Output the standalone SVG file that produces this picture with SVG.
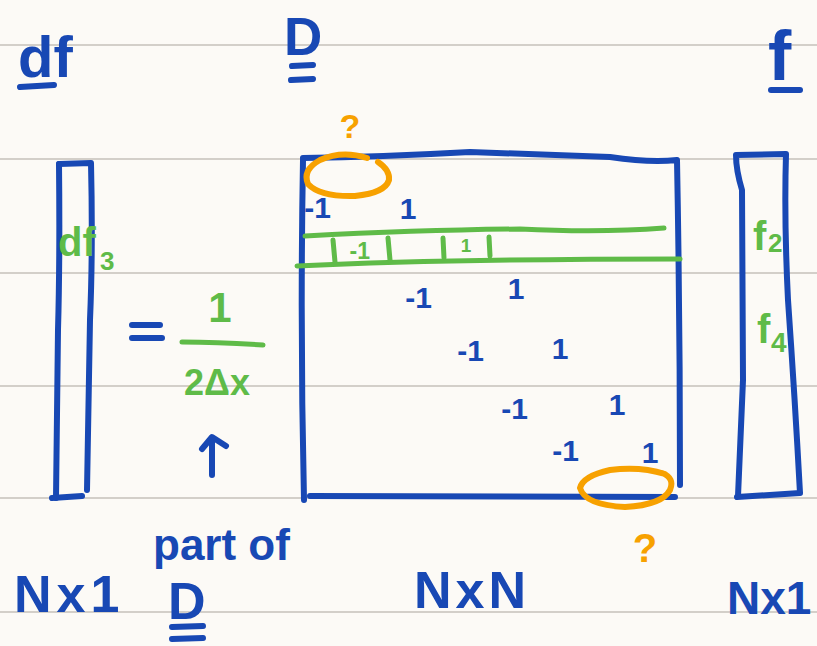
<svg xmlns="http://www.w3.org/2000/svg" width="817" height="646" viewBox="0 0 817 646">
<style>
.rule{stroke:#d3cfc9;stroke-width:2;fill:none}
.b{stroke:#1848b4;stroke-width:6;fill:none;stroke-linecap:round;stroke-linejoin:round}
.g{stroke:#5fbb48;stroke-width:5;fill:none;stroke-linecap:round;stroke-linejoin:round}
.o{stroke:#f7a100;stroke-width:6;fill:none;stroke-linecap:round}
.tb{fill:#1848b4;font-family:"Liberation Sans",Arial,sans-serif;font-weight:bold}
.tg{fill:#5fbb48;font-family:"Liberation Sans",Arial,sans-serif;font-weight:bold}
.to{fill:#f7a100;font-family:"Liberation Sans",Arial,sans-serif;font-weight:bold}
</style>
<rect width="817" height="646" fill="#fcfaf6"/>
<g id="ruling">
<line class="rule" x1="0" y1="45" x2="817" y2="45"/>
<line class="rule" x1="0" y1="159" x2="817" y2="159"/>
<line class="rule" x1="0" y1="273" x2="817" y2="273"/>
<line class="rule" x1="0" y1="386" x2="817" y2="386"/>
<line class="rule" x1="0" y1="498" x2="817" y2="498"/>
<line class="rule" x1="0" y1="612" x2="817" y2="612"/>
</g>
<g id="df-vector">
<text class="tb" x="18" y="77" font-size="58">df</text>
<path class="b" d="M20,87 L54,85"/>
<path class="b" d="M59,164 L91,163 Q93,250 90,320 L87,490 M52,498 L82,496"/>
<path class="b" d="M59,164 Q60,260 58,330 L56,498"/>
<text class="tg" x="58" y="256" font-size="40">df</text>
<text class="tg" x="100" y="270" font-size="26">3</text>
<text class="tb" x="14" y="612" font-size="52" letter-spacing="5">Nx1</text>
</g>
<g id="D-matrix">
<text class="tb" x="284" y="55" font-size="53">D</text>
<path class="b" d="M292,66 L313,65 M291,80 L313,79"/>
<path class="b" d="M303,160 Q300,330 304,500"/>
<path class="b" d="M303,158 Q380,157 470,152 Q560,155 610,157 Q650,163 677,160 Q680,320 680,485"/>
<path class="b" d="M310,496 L675,497"/>
<g id="row-band">
<path class="g" d="M305,236 Q420,230 520,229 Q600,233 664,228"/>
<path class="g" d="M297,266 Q450,259 680,259"/>
<path class="g" d="M333,240 L335,262 M388,238 L390,260 M443,238 L444,258 M489,237 L490,256"/>
<text class="tg" x="370" y="259" font-size="23" text-anchor="end">-1</text>
<text class="tg" x="466" y="252" font-size="19" text-anchor="middle">1</text>
</g>
<g id="entries" class="tb" font-size="30">
<text x="331" y="218" text-anchor="end">-1</text>
<text x="408" y="219" text-anchor="middle">1</text>
<text x="432" y="308" text-anchor="end">-1</text>
<text x="516" y="299" text-anchor="middle">1</text>
<text x="484" y="361" text-anchor="end">-1</text>
<text x="560" y="359" text-anchor="middle">1</text>
<text x="528" y="419" text-anchor="end">-1</text>
<text x="617" y="415" text-anchor="middle">1</text>
<text x="579" y="461" text-anchor="end">-1</text>
<text x="650" y="463" text-anchor="middle">1</text>
</g>
<path class="o" d="M367,158 Q342,150 320,160 Q302,170 308,184 Q320,197 355,196 Q385,193 389,180 Q390,170 378,162"/>
<text class="to" x="350" y="138" font-size="34" text-anchor="middle">?</text>
<path class="o" d="M665,474 Q640,466 610,470 Q583,476 580,488 Q585,505 625,507 Q662,505 670,490 Q675,478 662,473"/>
<text class="to" x="645" y="562" font-size="40" text-anchor="middle">?</text>
<text class="tb" x="414" y="608" font-size="52" letter-spacing="4">NxN</text>
</g>
<g id="f-vector">
<text class="tb" x="768" y="80" font-size="70">f</text>
<path class="b" d="M771,90 L800,90"/>
<path class="b" d="M736,155 L786,154 Q784,220 788,300 Q795,400 800,493 L737,497 M736,155 Q736,170 742,190 L743,380 Q740,450 738,496"/>
<text class="tg" x="753" y="250" font-size="40">f</text>
<text class="tg" x="768" y="252" font-size="26">2</text>
<text class="tg" x="757" y="343" font-size="40">f</text>
<text class="tg" x="771" y="352" font-size="28">4</text>
<text class="tb" x="727" y="614" font-size="46">Nx1</text>
</g>
<g id="scale-factor">
<path class="b" d="M132,325 L160,325 M132,338 L162,338"/>
<text class="tg" x="220" y="322" font-size="42" text-anchor="middle">1</text>
<path class="g" d="M182,342 Q220,342 263,345"/>
<text class="tg" x="217" y="395" font-size="36" text-anchor="middle">2Δx</text>
</g>
<g id="note">
<text class="tb" x="153" y="560" font-size="44">part of</text>
<text class="tb" x="168" y="619" font-size="52">D</text>
<path class="b" d="M172,627 L203,626 M172,639 L203,638"/>
</g>
<g id="connectors">
<path class="b" d="M212,475 L212,440 M202,449 L212,437 L226,446"/>
</g>
</svg>
